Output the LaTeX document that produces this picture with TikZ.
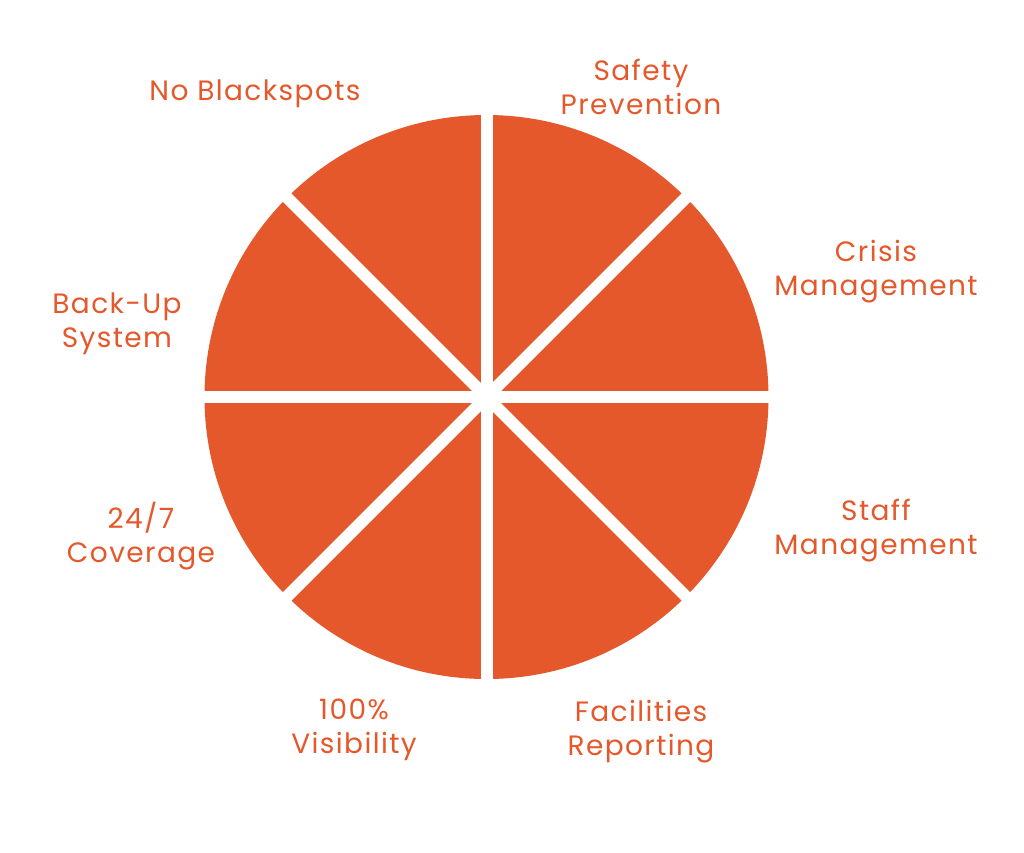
\documentclass[tikz,border=0pt]{standalone}
\usepackage{fontspec}
\setmainfont{Poppins}[LetterSpace=5]
\definecolor{pieorange}{HTML}{E5582B}
\tikzset{
  wedge label/.style={text=pieorange, align=center, inner sep=0pt,
    font=\fontsize{28}{34}\selectfont},
  gap line/.style={white, line width=12pt},
}
\begin{document}
\begin{tikzpicture}[x=1pt,y=-1pt]
  \useasboundingbox (0,0) rectangle (1024,852);
  \coordinate (centre) at (486.5,397);
  % the pie and the white gaps between its eight wedges
  \fill[pieorange] (centre) circle[radius=282pt];
  \foreach \a in {0,45,90,135}
    \draw[gap line] (centre) ++(\a:292pt) -- ++(\a+180:584pt);
  % labels round the pie
  \node[wedge label] (blackspots) at (255,94) {No Blackspots};
  \node[wedge label] (safety) at (641,87) {Safety\\Prevention};
  \node[wedge label] (crisis) at (876,272) {Crisis\\Management};
  \node[wedge label] (backup) at (117,324) {Back-Up\\System};
  \node[wedge label] (staff) at (876,531) {Staff\\Management};
  \node[wedge label] (coverage) at (141,536) {24/7\\Coverage};
  \node[wedge label] (visibility) at (354,730) {100\%\\Visibility};
  \node[wedge label] (facilities) at (641,732) {Facilities\\Reporting};
\end{tikzpicture}
\end{document}
